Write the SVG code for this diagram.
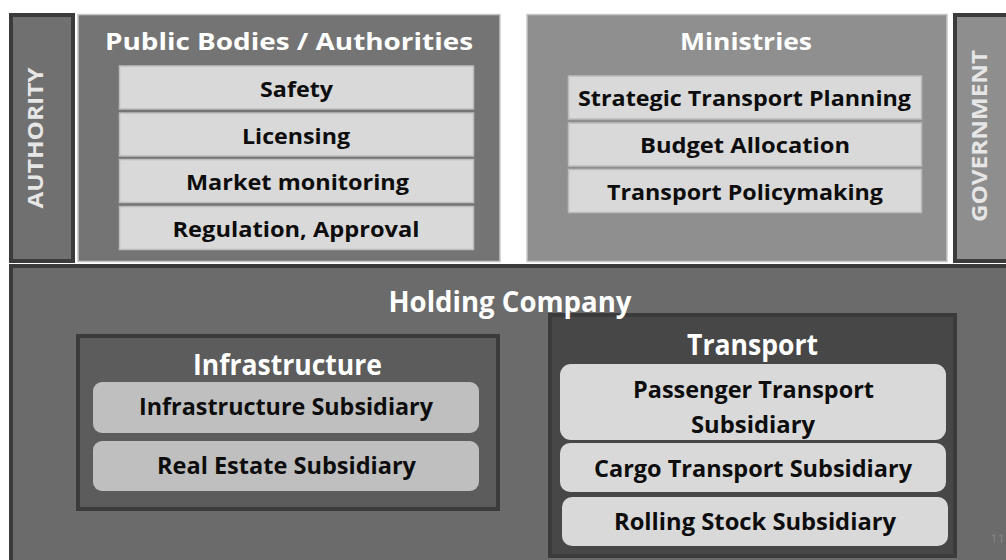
<svg xmlns="http://www.w3.org/2000/svg" width="1006" height="560" viewBox="0 0 1006 560">
  <style>
    text { font-family: "Open Sans", "Noto Sans", "DejaVu Sans", sans-serif; font-weight: bold; text-anchor: middle; }
    .title { fill: #ffffff; font-size: 24px; }
    .title-lg { fill: #ffffff; font-size: 28px; }
    .side { fill: #e6e6e6; font-size: 21px; }
    .item { fill: #0d0d0d; font-size: 22px; }
    .item-lg { fill: #0d0d0d; font-size: 23px; }
    .flat { fill: #d9d9d9; stroke: #bcbcbc; stroke-width: 1.5; }
    .pill { fill: #d9d9d9; }
    .pill-mid { fill: #bfbfbf; }
    .frame-dark { stroke: #3b3b3b; stroke-width: 4; }
    .frame-light { stroke: #c8c8c8; stroke-width: 1.5; }
  </style>

  <rect x="0" y="0" width="1006" height="560" fill="#ffffff"/>

  <!-- Holding company background -->
  <g id="holding">
    <rect class="frame-dark" x="11" y="266" width="1000" height="300" fill="#6b6b6b"/>
  </g>

  <!-- Left side label -->
  <g id="authority">
    <rect class="frame-dark" x="11" y="15" width="62" height="246" fill="#707070"/>
    <text class="side" transform="translate(43,138) rotate(-90)" textLength="141" lengthAdjust="spacingAndGlyphs">AUTHORITY</text>
  </g>

  <!-- Public bodies and their functions -->
  <g id="public-bodies">
    <rect class="frame-light" x="78" y="14.5" width="422" height="247" fill="#747474"/>
    <text class="title" x="289" y="50" textLength="368" lengthAdjust="spacingAndGlyphs">Public Bodies / Authorities</text>
    <g id="safety">
      <rect class="flat" x="119.5" y="66" width="354" height="43"/>
      <text class="item" x="296.5" y="97" textLength="73" lengthAdjust="spacingAndGlyphs">Safety</text>
    </g>
    <g id="licensing">
      <rect class="flat" x="119.5" y="113" width="354" height="43"/>
      <text class="item" x="296" y="144" textLength="108" lengthAdjust="spacingAndGlyphs">Licensing</text>
    </g>
    <g id="market-monitoring">
      <rect class="flat" x="119.5" y="159.5" width="354" height="43"/>
      <text class="item" x="297.5" y="190" textLength="223" lengthAdjust="spacingAndGlyphs">Market monitoring</text>
    </g>
    <g id="regulation">
      <rect class="flat" x="119.5" y="206.5" width="354" height="43"/>
      <text class="item" x="296" y="237" textLength="247" lengthAdjust="spacingAndGlyphs">Regulation, Approval</text>
    </g>
  </g>

  <!-- Ministries and their functions -->
  <g id="ministries">
    <rect class="frame-light" x="527" y="14.5" width="420" height="247" fill="#8f8f8f"/>
    <text class="title" x="746" y="50" textLength="132" lengthAdjust="spacingAndGlyphs">Ministries</text>
    <g id="strategic-planning">
      <rect class="flat" x="568.5" y="76" width="353" height="43"/>
      <text class="item" x="744.5" y="106" textLength="333" lengthAdjust="spacingAndGlyphs">Strategic Transport Planning</text>
    </g>
    <g id="budget-allocation">
      <rect class="flat" x="568.5" y="123" width="353" height="43"/>
      <text class="item" x="745" y="153" textLength="210" lengthAdjust="spacingAndGlyphs">Budget Allocation</text>
    </g>
    <g id="policymaking">
      <rect class="flat" x="568.5" y="169.5" width="353" height="43"/>
      <text class="item" x="745" y="200" textLength="276" lengthAdjust="spacingAndGlyphs">Transport Policymaking</text>
    </g>
  </g>

  <!-- Right side label -->
  <g id="government">
    <rect class="frame-dark" x="955" y="15" width="60" height="246" fill="#8e8e8e"/>
    <text class="side" transform="translate(987,136) rotate(-90)" textLength="172" lengthAdjust="spacingAndGlyphs">GOVERNMENT</text>
  </g>

  <!-- Infrastructure division -->
  <g id="infrastructure">
    <rect class="frame-dark" x="78" y="336" width="420" height="173" fill="#5c5c5c"/>
    <text class="title-lg" x="287.5" y="375" textLength="189" lengthAdjust="spacingAndGlyphs">Infrastructure</text>
    <g id="infrastructure-subsidiary">
      <rect class="pill-mid" x="93" y="382" width="386" height="51" rx="9"/>
      <text class="item-lg" x="286" y="415" textLength="294" lengthAdjust="spacingAndGlyphs">Infrastructure Subsidiary</text>
    </g>
    <g id="real-estate-subsidiary">
      <rect class="pill-mid" x="93" y="441" width="386" height="50" rx="9"/>
      <text class="item-lg" x="286.5" y="474" textLength="259" lengthAdjust="spacingAndGlyphs">Real Estate Subsidiary</text>
    </g>
  </g>

  <!-- Transport division -->
  <g id="transport">
    <rect class="frame-dark" x="550" y="315" width="405" height="241" fill="#474747"/>
    <text class="title-lg" x="752.5" y="355" textLength="131" lengthAdjust="spacingAndGlyphs">Transport</text>
    <g id="passenger-subsidiary">
      <rect class="pill" x="560" y="364" width="386" height="76" rx="11"/>
      <text class="item-lg" x="753.5" y="398" textLength="241" lengthAdjust="spacingAndGlyphs">Passenger Transport</text>
      <text class="item-lg" x="753" y="433" textLength="124" lengthAdjust="spacingAndGlyphs">Subsidiary</text>
    </g>
    <g id="cargo-subsidiary">
      <rect class="pill" x="560" y="443" width="386" height="49" rx="10"/>
      <text class="item-lg" x="753" y="477" textLength="318" lengthAdjust="spacingAndGlyphs">Cargo Transport Subsidiary</text>
    </g>
    <g id="rolling-stock-subsidiary">
      <rect class="pill" x="562" y="497" width="386" height="49" rx="10"/>
      <text class="item-lg" x="755" y="530" textLength="282" lengthAdjust="spacingAndGlyphs">Rolling Stock Subsidiary</text>
    </g>
  </g>

  <!-- Holding company title, painted last so its descenders sit over the Transport frame -->
  <g id="holding-title">
    <text class="title-lg" x="510" y="312" textLength="243" lengthAdjust="spacingAndGlyphs">Holding Company</text>
  </g>

  <!-- Connectors: none drawn, the layout is nested boxes only -->
  <g id="connectors"/>

  <!-- Page number -->
  <text x="1005" y="543" style="font-size:13px; font-weight:normal; text-anchor:end; fill:#858585;">11</text>
</svg>
